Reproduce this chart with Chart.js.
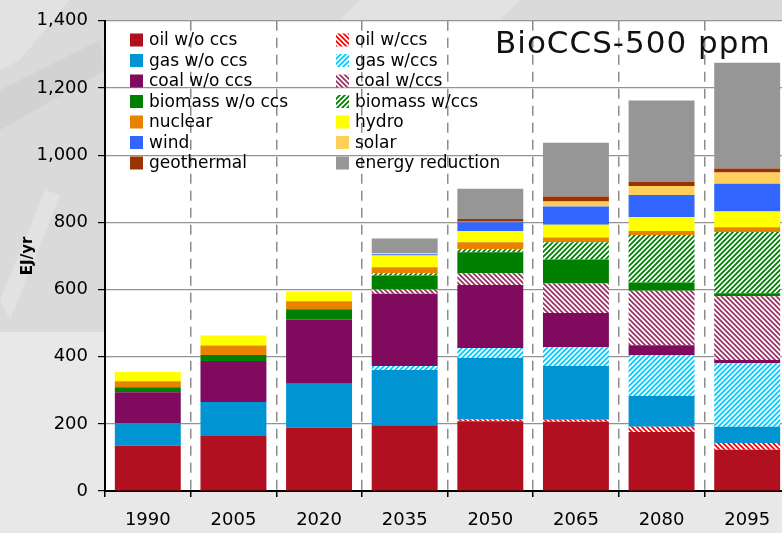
<!DOCTYPE html>
<html>
<head>
<meta charset="utf-8">
<script src="https://cdn.jsdelivr.net/npm/chart.js@4"></script>
<style>
html, body { margin: 0; padding: 0; overflow: hidden; background: #e8e8e8; }
#wrap { width: 790px; height: 533px; }
</style>
</head>
<body>
<div id="wrap"><canvas id="barChart"></canvas></div>
<script>
// values, EJ/yr
var years = ['1990', '2005', '2020', '2035', '2050', '2065', '2080', '2095'];
var oilNoCcs        = [135, 164, 188, 196, 208, 206, 176, 123];
var oilCcs          = [0, 0, 0, 0, 5, 6, 15, 20];
var gasNoCcs        = [67, 101, 131, 164, 183, 160, 92, 48];
var gasCcs          = [0, 0, 0, 12, 30, 56, 122, 189];
var coalNoCcs       = [92, 122, 192, 215, 187, 102, 29, 10];
var coalCcs         = [0, 0, 0, 13, 35, 88, 162, 190];
var biomassNoCcs    = [15, 18, 30, 42, 63, 71, 25, 9];
var biomassCcs      = [0, 0, 0, 6, 9, 52, 141, 182];
var nuclear         = [18, 28, 24, 18, 21, 14, 12, 14];
var hydro           = [27, 30, 29, 35, 33, 38, 41, 47];
var wind            = [0, 0, 0, 4, 26, 54, 66, 83];
var solar           = [0, 0, 0, 3, 2, 15, 27, 33];
var geothermal      = [0, 0, 0, 0, 8, 15, 12, 12];
var energyReduction = [0, 0, 0, 44, 90, 160, 243, 315];
var yTicks = [0, 200, 400, 600, 800, 1000, 1200, 1400];

var legendLeft  = ['oil w/o ccs', 'gas w/o ccs', 'coal w/o ccs', 'biomass w/o ccs', 'nuclear', 'wind', 'geothermal'];
var legendRight = ['oil w/ccs', 'gas w/ccs', 'coal w/ccs', 'biomass w/ccs', 'hydro', 'solar', 'energy reduction'];

var canvas = document.getElementById('barChart');
var ctx = canvas.getContext('2d');

function stripes(color, dir) {
  var s = 5;
  var c = document.createElement('canvas');
  c.width = s; c.height = s;
  var g = c.getContext('2d');
  g.fillStyle = '#fff';
  g.fillRect(0, 0, s, s);
  g.strokeStyle = color;
  g.lineWidth = 1.8;
  g.beginPath();
  if (dir == 'back') {
    g.moveTo(-1, -1); g.lineTo(s + 1, s + 1);
    g.moveTo(-1, s - 1); g.lineTo(1, s + 1);
    g.moveTo(s - 1, -1); g.lineTo(s + 1, 1);
  } else {
    g.moveTo(-1, s + 1); g.lineTo(s + 1, -1);
    g.moveTo(-1, 1); g.lineTo(1, -1);
    g.moveTo(s - 1, s + 1); g.lineTo(s + 1, s - 1);
  }
  g.stroke();
  return ctx.createPattern(c, 'repeat');
}

function series(label, data, fill) {
  return { label: label, data: data, backgroundColor: fill, borderWidth: 0,
           barPercentage: 0.77, categoryPercentage: 1.0 };
}

var datasets = [
  series('oil w/o ccs', oilNoCcs, '#b11020'),
  series('oil w/ccs', oilCcs, stripes('#ff0000', 'back')),
  series('gas w/o ccs', gasNoCcs, '#0094d2'),
  series('gas w/ccs', gasCcs, stripes('#00ccff', 'fwd')),
  series('coal w/o ccs', coalNoCcs, '#7f0a5e'),
  series('coal w/ccs', coalCcs, stripes('#993366', 'back')),
  series('biomass w/o ccs', biomassNoCcs, '#008000'),
  series('biomass w/ccs', biomassCcs, stripes('#008000', 'fwd')),
  series('nuclear', nuclear, '#e88300'),
  series('hydro', hydro, '#ffff00'),
  series('wind', wind, '#3366ff'),
  series('solar', solar, '#ffcf5c'),
  series('geothermal', geothermal, '#993300'),
  series('energy reduction', energyReduction, '#969696')
];

function fillFor(label) {
  for (var i = 0; i < datasets.length; i++) {
    if (datasets[i].label == label) return datasets[i].backgroundColor;
  }
}

var decor = {
  id: 'decor',
  beforeDraw: function(chart) {
    var c = chart.ctx, a = chart.chartArea;
    c.save();
    c.fillStyle = '#e8e8e8';
    c.fillRect(0, 0, chart.width, chart.height);
    c.fillStyle = '#dadada';
    c.fillRect(0, 0, chart.width, 332);
    // faint shapes of the backdrop
    c.fillStyle = '#e2e2e2';
    c.beginPath(); c.moveTo(0, 0); c.lineTo(70, 0); c.lineTo(20, 60); c.lineTo(0, 70); c.fill();
    c.beginPath(); c.moveTo(0, 300); c.lineTo(45, 190); c.lineTo(60, 195); c.lineTo(10, 320); c.fill();
    c.beginPath(); c.moveTo(360, 0); c.lineTo(520, 0); c.lineTo(500, 20); c.lineTo(340, 20); c.fill();
    c.fillStyle = '#d2d2d2';
    c.beginPath(); c.moveTo(0, 90); c.lineTo(100, 40); c.lineTo(105, 70); c.lineTo(0, 130); c.fill();
    c.fillStyle = '#fff';
    c.fillRect(a.left, a.top, a.right - a.left, a.bottom - a.top);
    c.restore();
  },
  afterDraw: function(chart) {
    var c = chart.ctx;
    c.save();
    c.font = '17px "DejaVu Sans"';
    c.textBaseline = 'middle';
    c.fillStyle = '#000';
    var cols = [[legendLeft, 130], [legendRight, 336]];
    cols.forEach(function(col) {
      col[0].forEach(function(label, i) {
        var y = 40 + i * 20.5;
        c.fillStyle = fillFor(label);
        c.fillRect(col[1], y - 6.5, 13, 13);
        c.fillStyle = '#000';
        c.fillText(label, col[1] + 19, y + 1);
      });
    });
    c.font = '31px "DejaVu Sans"';
    c.letterSpacing = '1px';
    c.textAlign = 'left';
    c.textBaseline = 'alphabetic';
    c.fillStyle = '#111';
    c.fillText('BioCCS-500 ppm', 495, 53);
    c.restore();
  }
};

Chart.defaults.font.family = '"DejaVu Sans"';
Chart.defaults.color = '#000';

var barChart = new Chart(ctx, {
  type: 'bar',
  data: { labels: years, datasets: datasets },
  options: {
    responsive: true,
    maintainAspectRatio: false,
    animation: false,
    layout: { padding: { top: 20, right: 0, left: 0, bottom: 0 } },
    plugins: { legend: { display: false }, tooltip: { enabled: false } },
    scales: {
      x: {
        stacked: true,
        offset: true,
        grid: { offset: true, color: '#8c8c8c', lineWidth: 1.5, tickLength: 6, tickColor: '#000' },
        border: { display: true, color: '#000', width: 2, dash: [10, 7] },
        ticks: { font: { size: 18 }, padding: 13 },
        afterFit: function(scale) { scale.height = 42; }
      },
      y: {
        stacked: true,
        min: 0,
        max: 1400,
        afterBuildTicks: function(scale) {
          scale.ticks = yTicks.map(function(v) { return { value: v }; });
        },
        grid: { color: '#939393', lineWidth: 1.2, tickLength: 7, tickColor: '#000' },
        border: { display: true, color: '#000', width: 2 },
        ticks: { font: { size: 18 }, padding: 10 },
        title: { display: true, text: 'EJ/yr', font: { size: 15, weight: 'bold' }, padding: { top: 19, bottom: 0 } },
        afterFit: function(scale) { scale.width = 105; }
      }
    }
  },
  plugins: [decor]
});
</script>
</body>
</html>
